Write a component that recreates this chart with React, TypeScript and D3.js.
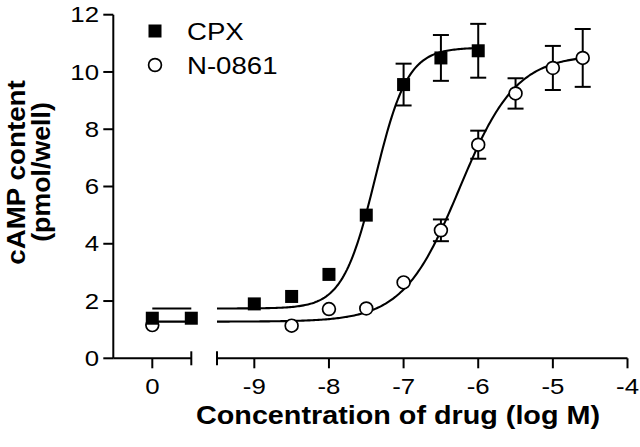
import React from "react";
import * as d3 from "d3";

// ---- Data ----
const cpxLogConc = [-9, -8.5, -8, -7.5, -7, -6.5, -6];
const cpxValues = [1.9, 2.16, 2.93, 5.0, 9.56, 10.49, 10.74];
const cpxErrors = [0, 0, 0, 0, 0.73, 0.8, 0.94];

const n0861LogConc = [-8.5, -8, -7.5, -7, -6.5, -6, -5.5, -5, -4.6];
const n0861Values = [1.14, 1.72, 1.74, 2.65, 4.47, 7.46, 9.25, 10.14, 10.49];
const n0861Errors = [0, 0, 0, 0, 0.38, 0.49, 0.53, 0.77, 1.01];

// basal (control) segment
const cpxBasalX = [0, 0.5];
const cpxBasalValues = [1.4, 1.4];
const n0861BasalX = [0];
const n0861BasalValues = [1.16];

// fitted sigmoid parameters: [bottom, top, logEC50, hill]
const cpxFit = [1.74, 10.85, -7.38, 2.0];
const n0861Fit = [1.28, 10.6, -6.25, 1.15];

const yTicks = [0, 2, 4, 6, 8, 10, 12];
const xTicksRight = [-9, -8, -7, -6, -5, -4];
const xTicksLeft = [0];

const FONT = "'Liberation Sans', Arial, Helvetica, sans-serif";

function STxt({ x, y, sx = 1.2, rotate = 0, anchor = "start", size = 21.5, weight = "normal", children }: any) {
  return (
    <text
      transform={`translate(${x},${y}) rotate(${rotate}) scale(${sx},1)`}
      textAnchor={anchor}
      fontSize={size}
      fontWeight={weight}
      fontFamily={FONT}
      fill="#000"
    >
      {children}
    </text>
  );
}

export default function App() {
  const W = 640, H = 447;
  const y = d3.scaleLinear().domain([0, 12]).range([358.3, 14.7]);
  const xL = d3.scaleLinear().domain([-0.5, 0.5]).range([113.3, 191.3]);
  const xR = d3.scaleLinear().domain([-9.5, -4]).range([217, 627.5]);

  const sig = (p: number[], x: number) => p[0] + (p[1] - p[0]) / (1 + Math.pow(10, (p[2] - x) * p[3]));
  const line = d3.line<[number, number]>().x(d => xR(d[0])).y(d => y(d[1]));
  const curve = (p: number[], x1: number) => {
    const pts: [number, number][] = d3.range(-9.5, x1 + 0.0001, 0.02).map(x => [x, sig(p, x)] as [number, number]);
    return line(pts) || "";
  };

  const axisY0 = y(0);
  const stroke = 2;
  const sq = 13;
  const r = 6.4;
  const cap = 8;

  const errBar = (cx: number, v: number, e: number, key: string) =>
    e > 0 ? (
      <g key={key} stroke="#000" strokeWidth={stroke}>
        <line x1={cx} x2={cx} y1={y(v - e)} y2={y(v + e)} />
        <line x1={cx - cap} x2={cx + cap} y1={y(v + e)} y2={y(v + e)} />
        <line x1={cx - cap} x2={cx + cap} y1={y(v - e)} y2={y(v - e)} />
      </g>
    ) : null;

  return (
    <svg width={W} height={H} style={{ position: "absolute", left: 0, top: 0, background: "#fff" }}>
      <rect x={0} y={0} width={W} height={H} fill="#fff" />
      {/* Y axis */}
      <g stroke="#000" strokeWidth={stroke}>
        <line x1={xL(-0.5)} x2={xL(-0.5)} y1={y(12)} y2={axisY0} />
        {yTicks.map(t => (
          <line key={t} x1={xL(-0.5) - 10} x2={xL(-0.5)} y1={y(t)} y2={y(t)} />
        ))}
        {/* left x segment */}
        <line x1={xL(-0.5)} x2={xL(0.5)} y1={axisY0} y2={axisY0} />
        <line x1={xL(0.5)} x2={xL(0.5)} y1={axisY0 - 7} y2={axisY0 + 7} />
        {xTicksLeft.map(t => (
          <line key={t} x1={xL(t)} x2={xL(t)} y1={axisY0} y2={axisY0 + 10} />
        ))}
        {/* right x segment */}
        <line x1={xR(-9.5)} x2={xR(-4)} y1={axisY0} y2={axisY0} />
        <line x1={xR(-9.5)} x2={xR(-9.5)} y1={axisY0 - 7} y2={axisY0 + 7} />
        {xTicksRight.map(t => (
          <line key={t} x1={xR(t)} x2={xR(t)} y1={axisY0} y2={axisY0 + 10} />
        ))}
      </g>
      {yTicks.map(t => (
        <STxt key={t} x={99} y={y(t) + 7.7} anchor="end">{t}</STxt>
      ))}
      {xTicksLeft.map(t => (
        <STxt key={t} x={xL(t)} y={394} anchor="middle">{t}</STxt>
      ))}
      {xTicksRight.map(t => (
        <STxt key={t} x={xR(t)} y={394} anchor="middle">{t}</STxt>
      ))}
      {/* axis titles */}
      <STxt x={398} y={424} anchor="middle" size={25} weight="bold" sx={1.15}>
        Concentration of drug (log M)
      </STxt>
      <STxt x={25} y={172.5} anchor="middle" size={25} weight="bold" sx={1.11} rotate={-90}>
        cAMP content
      </STxt>
      <STxt x={50} y={172} anchor="middle" size={25} weight="bold" sx={1.07} rotate={-90}>
        (pmol/well)
      </STxt>

      {/* fitted curves */}
      <g fill="none" stroke="#000" strokeWidth={2.1}>
        <path d={curve(cpxFit, cpxLogConc[cpxLogConc.length - 1])} />
        <path d={curve(n0861Fit, n0861LogConc[n0861LogConc.length - 1])} />
        <line x1={xL(0)} x2={xL(0.5)} y1={y(cpxFit[0])} y2={y(cpxFit[0])} />
        <line x1={xL(0)} x2={xL(0.5)} y1={y(n0861Fit[0])} y2={y(n0861Fit[0])} />
      </g>

      {/* error bars */}
      {n0861LogConc.map((c, i) => errBar(xR(c), n0861Values[i], n0861Errors[i], "ne" + i))}
      {cpxLogConc.map((c, i) => errBar(xR(c), cpxValues[i], cpxErrors[i], "ce" + i))}

      {/* N-0861 markers */}
      <g fill="#fff" stroke="#000" strokeWidth={1.7}>
        {n0861LogConc.map((c, i) => (
          <circle key={i} cx={xR(c)} cy={y(n0861Values[i])} r={r} />
        ))}
        {n0861BasalX.map((c, i) => (
          <circle key={"b" + i} cx={xL(c)} cy={y(n0861BasalValues[i])} r={r} />
        ))}
      </g>
      {/* CPX markers */}
      <g fill="#000">
        {cpxLogConc.map((c, i) => (
          <rect key={i} x={xR(c) - sq / 2} y={y(cpxValues[i]) - sq / 2} width={sq} height={sq} />
        ))}
        {cpxBasalX.map((c, i) => (
          <rect key={"b" + i} x={xL(c) - sq / 2} y={y(cpxBasalValues[i]) - sq / 2} width={sq} height={sq} />
        ))}
      </g>

      {/* legend */}
      <rect x={155 - 6.5} y={31 - 6.5} width={sq} height={sq} fill="#000" />
      <circle cx={155} cy={65} r={r} fill="#fff" stroke="#000" strokeWidth={1.7} />
      <STxt x={187} y={39.5} size={23} sx={1.2}>CPX</STxt>
      <STxt x={187} y={74} size={23} sx={1.2}>N-0861</STxt>
    </svg>
  );
}
